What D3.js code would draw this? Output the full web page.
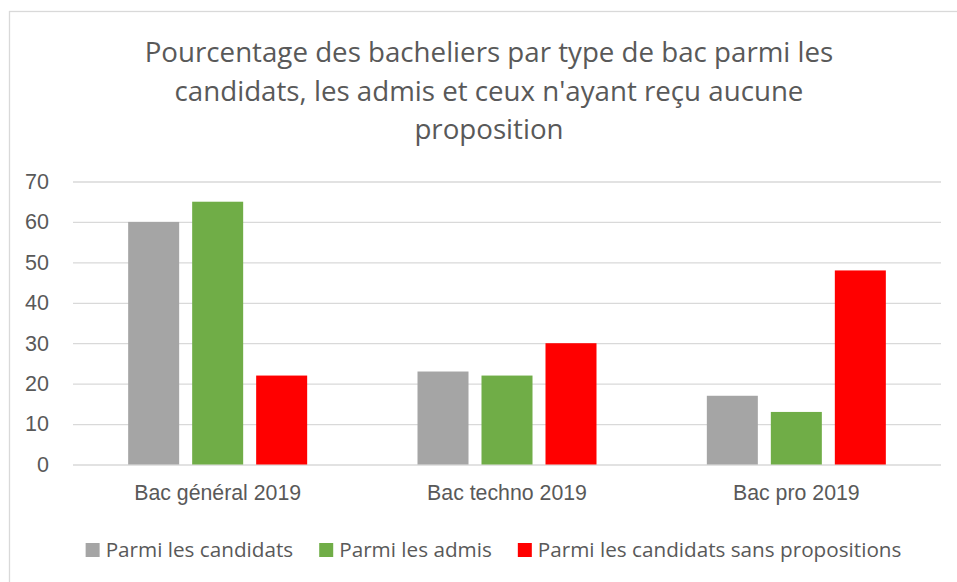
<!DOCTYPE html>
<html>
<head>
<meta charset="utf-8">
<script src="https://cdn.jsdelivr.net/npm/d3@7"></script>
<style>
  body { margin: 0; background: #fff; }
  svg { display: block; font-family: "Open Sans", sans-serif; }
  .axis text { fill: #595959; }
  .grid line { stroke: #d9d9d9; stroke-width: 1.3; }
</style>
</head>
<body>
<script>
const titleLines = [
  "Pourcentage des bacheliers par type de bac parmi les",
  "candidats, les admis et ceux n'ayant reçu aucune",
  "proposition"
];
const categories = ["Bac général 2019", "Bac techno 2019", "Bac pro 2019"];
const series = ["Parmi les candidats", "Parmi les admis", "Parmi les candidats sans propositions"];
const candidats = [60, 23, 17];
const admis = [65, 22, 13];
const sansPropositions = [22, 30, 48];
const yTicks = [0, 10, 20, 30, 40, 50, 60, 70];
const colors = ["#a5a5a5", "#70ad47", "#ff0000"];

const values = [candidats, admis, sansPropositions];
const data = categories.map((c, i) => ({
  category: c,
  bars: series.map((s, j) => ({ key: s, value: values[j][i] }))
}));

const W = 957, H = 582;
const margin = { top: 181.5, right: 16, bottom: 117.5, left: 73 },
  width = W - margin.left - margin.right,
  height = H - margin.top - margin.bottom;

const svg = d3
  .select("body")
  .append("svg")
  .attr("width", W)
  .attr("height", H);

// chart frame
svg
  .append("rect")
  .attr("x", 9.5)
  .attr("y", 11.5)
  .attr("width", W + 20)
  .attr("height", H + 20)
  .attr("fill", "#fff")
  .attr("stroke", "#d9d9d9")
  .attr("stroke-width", 1.3);

svg
  .append("g")
  .selectAll("text")
  .data(titleLines)
  .enter()
  .append("text")
  .attr("x", 489)
  .attr("y", (d, i) => 62 + i * 38.5)
  .attr("text-anchor", "middle")
  .style("font-size", "27.7px")
  .style("fill", "#595959")
  .text(d => d);

const g = svg
  .append("g")
  .attr("transform", `translate(${margin.left}, ${margin.top})`);

const x0 = d3.scaleBand().domain(categories).range([0, width]).padding(0);
const x1 = d3
  .scaleBand()
  .domain(series)
  .range([0, x0.bandwidth()])
  .paddingInner(0.203)
  .paddingOuter(0.862);
const y = d3.scaleLinear().domain([0, 70]).range([height, 0]);
const color = d3.scaleOrdinal().domain(series).range(colors);

const yAxis = d3
  .axisLeft(y)
  .tickValues(yTicks)
  .tickSize(-width)
  .tickPadding(24)
  .tickFormat(d3.format("d"));

g.append("g")
  .attr("class", "axis grid")
  .call(yAxis)
  .call(a => a.select(".domain").remove())
  .selectAll("text")
  .style("font-size", "21.5px");

g.append("g")
  .attr("class", "axis")
  .attr("transform", `translate(0, ${height})`)
  .call(d3.axisBottom(x0).tickSize(0).tickPadding(20))
  .call(a => a.select(".domain").remove())
  .selectAll("text")
  .style("font-size", "21.3px");

g.append("g")
  .selectAll("g")
  .data(data)
  .enter()
  .append("g")
  .attr("transform", d => `translate(${x0(d.category)}, 0)`)
  .selectAll("rect")
  .data(d => d.bars)
  .enter()
  .append("rect")
  .attr("x", d => x1(d.key))
  .attr("y", d => y(d.value))
  .attr("width", x1.bandwidth())
  .attr("height", d => height - y(d.value))
  .style("fill", d => color(d.key));

// legend
const legend = svg.append("g").attr("transform", "translate(0, 550)");
const items = legend
  .selectAll(".legend")
  .data(series)
  .enter()
  .append("g")
  .attr("class", "legend");

items
  .append("rect")
  .attr("y", -7)
  .attr("width", 14)
  .attr("height", 14)
  .style("fill", color);

items
  .append("text")
  .attr("x", 20)
  .attr("dy", "0.35em")
  .style("font-size", "20.7px")
  .style("fill", "#595959")
  .text(d => d);

let offset = 0;
const itemWidths = [];
items.each(function() {
  itemWidths.push(this.getBBox().width);
});
const gap = 26;
const total = d3.sum(itemWidths) + gap * (itemWidths.length - 1);
offset = 493.5 - total / 2;
items.attr("transform", (d, i) => {
  const t = `translate(${offset}, 0)`;
  offset += itemWidths[i] + gap;
  return t;
});
</script>
</body>
</html>
